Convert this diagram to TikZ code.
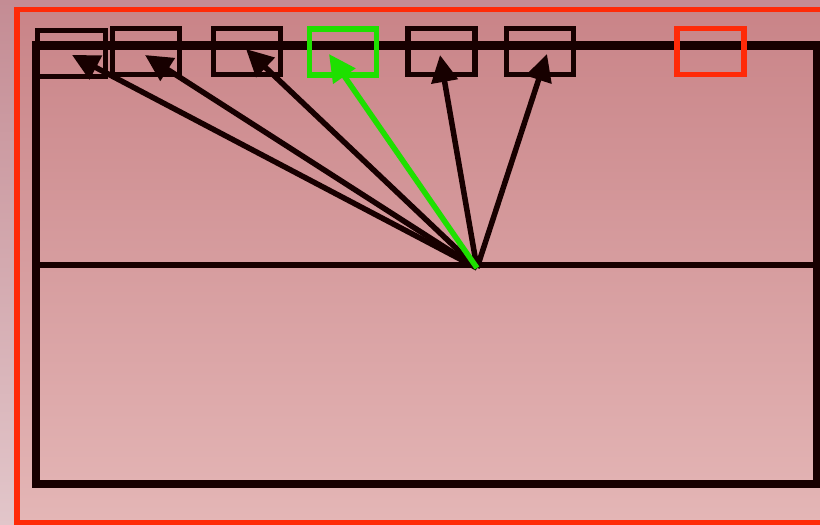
\documentclass[tikz,border=0pt]{standalone}
\usetikzlibrary{arrows.meta}
\definecolor{ink}{HTML}{170000}
\definecolor{hired}{HTML}{FF2A08}
\definecolor{higreen}{HTML}{1EE000}
\definecolor{bgtop}{HTML}{C48C94}
\definecolor{bgbot}{HTML}{E2C6CA}
\definecolor{intop}{HTML}{C98488}
\definecolor{inbot}{HTML}{E4B6B6}
\tikzset{
  box/.style={draw=ink, line width=5.5pt, rectangle, inner sep=0pt, minimum width=67pt, minimum height=46pt},
  greenbox/.style={box, draw=higreen},
  redbox/.style={box, draw=hired},
  arr/.style={draw=ink, line width=5.5pt, -{Triangle[length=27pt,width=26pt]}},
  garr/.style={arr, draw=higreen, fill=higreen},
  panel/.style={draw=ink, line width=8.5pt, rectangle, inner sep=0pt, minimum width=781pt, minimum height=438.5pt},
}
\begin{document}
\begin{tikzpicture}[x=1pt,y=-1pt]
\useasboundingbox (0,0) rectangle (820,525);
\shade[top color=bgtop, bottom color=bgbot] (0,0) rectangle (820,525);
\shade[top color=intop, bottom color=inbot] (17,9.5) rectangle (830,523);
\draw[hired, line width=5.5pt] (17,9.5) rectangle (830,523);
% main panel
\node[panel] (main) at (426.5,264.75) {};
\coordinate (divL) at (36,265);
\coordinate (divR) at (817,265);
\draw[ink, line width=5.5pt] (divL) -- (divR);
% boxes
\node[box, minimum width=68pt] (b1) at (71.5,53.5) {};
\node[box] (b2) at (146,51.5) {};
\node[box] (b3) at (247,51.5) {};
\node[greenbox] (b4) at (343,52) {};
\node[box] (b5) at (441.5,51.5) {};
\node[box] (b6) at (540,51.5) {};
\node[redbox] (b7) at (710.5,51.5) {};
% arrows
\coordinate (hub) at (477,268);
\coordinate (t1) at (72,55);
\coordinate (t2) at (145,55);
\coordinate (t3) at (246,49);
\coordinate (t4) at (329,54);
\coordinate (t5) at (440,55);
\coordinate (t6) at (547,54);
\draw[arr] (hub) -- (t1);
\draw[arr] (hub) -- (t2);
\draw[arr] (hub) -- (t3);
\draw[arr] (hub) -- (t5);
\draw[arr] (hub) -- (t6);
\draw[garr] (hub) -- (t4);
\end{tikzpicture}
\end{document}
